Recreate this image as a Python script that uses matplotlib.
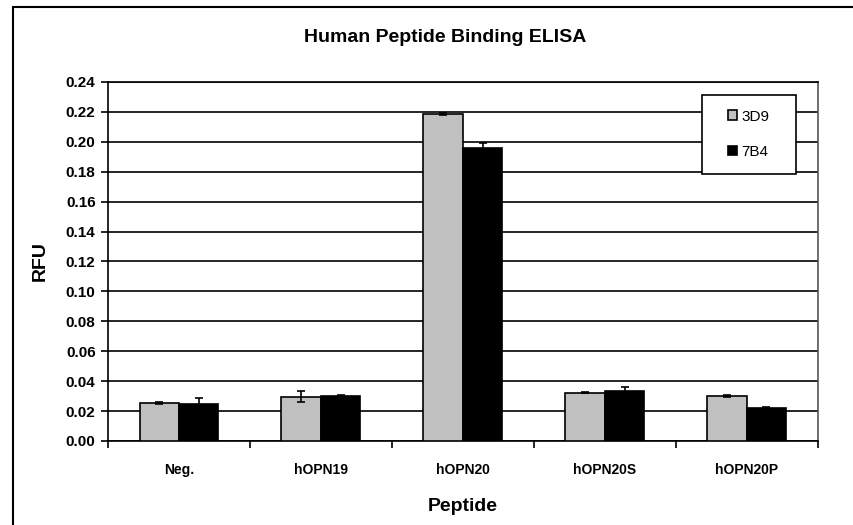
import numpy as np
import matplotlib.pyplot as plt
from matplotlib.patches import Rectangle

# Datos
peptidos = ["Neg.", "hOPN19", "hOPN20", "hOPN20S", "hOPN20P"]
valores_3d9 = [0.0255, 0.0296, 0.2185, 0.0324, 0.0300]
error_3d9 = [0.0008, 0.0035, 0.0008, 0.0004, 0.0007]
valores_7b4 = [0.0245, 0.0302, 0.1958, 0.0333, 0.0218]
error_7b4 = [0.0042, 0.0005, 0.0033, 0.0027, 0.0008]
series = ["3D9", "7B4"]

plt.rcParams['font.family'] = ['Liberation Sans', 'DejaVu Sans']

fig = plt.figure(figsize=(8.54, 5.25), dpi=100)
ax = fig.add_axes([0.1265, 0.16, 0.831, 0.684])

x = np.arange(len(peptidos))
ancho = 0.278
kw_err = dict(ecolor='black', capsize=3, error_kw=dict(elinewidth=1.2, capthick=1.2))
ax.bar(x - ancho / 2, valores_3d9, ancho, yerr=error_3d9, color='#c0c0c0',
       edgecolor='black', linewidth=1.2, label=series[0], zorder=3, **kw_err)
ax.bar(x + ancho / 2, valores_7b4, ancho, yerr=error_7b4, color='black',
       edgecolor='black', linewidth=1.2, label=series[1], zorder=3, **kw_err)

# Ejes
ax.set_xlim(-0.5, len(peptidos) - 0.5)
ax.set_ylim(0, 0.24)
marcas_y = np.arange(0, 0.2401, 0.02)
ax.set_yticks(marcas_y)
ax.set_yticklabels([f"{v:.2f}" for v in marcas_y], fontsize=11, fontweight='bold')
ax.set_xticks(x)
ax.set_xticklabels(peptidos, fontsize=10, fontweight='bold')
ax.set_xticks(np.arange(-0.5, len(peptidos)), minor=True)
ax.tick_params(axis='x', which='major', length=0, pad=16)
ax.tick_params(axis='x', which='minor', length=5, width=1.2, direction='out')
ax.tick_params(axis='y', length=5, width=1.2, direction='out', pad=4)
ax.yaxis.grid(True, color='black', linewidth=1.2, zorder=0)
ax.set_axisbelow(True)
for s in ax.spines.values():
    s.set_linewidth(1.2)
ax.spines['right'].set_color('#555555')

fig.text(445 / 854, 1 - 38 / 525, "Human Peptide Binding ELISA", fontsize=14,
         fontweight='bold', ha='center', va='center')
ax.set_ylabel("RFU", fontsize=14, fontweight='bold', labelpad=12)
ax.set_xlabel("Peptide", fontsize=14, fontweight='bold', labelpad=15)

# Leyenda con marco propio
ax.add_patch(Rectangle((0.837, 0.744), 0.132, 0.22, transform=ax.transAxes,
                       facecolor='white', edgecolor='black', linewidth=1.2,
                       zorder=4, clip_on=False))
leg = ax.legend(loc='center', bbox_to_anchor=(0.903, 0.854), fontsize=11,
                handlelength=0.6, handleheight=0.6, handletextpad=0.3,
                labelspacing=1.4, frameon=False)
leg.set_zorder(5)

# Marco exterior de la figura
fig.patches.append(Rectangle((13 / 854, -0.05), 1.0, 1.05 - 7 / 525,
                             transform=fig.transFigure, fill=False,
                             edgecolor='black', linewidth=1.5))

fig.savefig("out.png", dpi=100)
